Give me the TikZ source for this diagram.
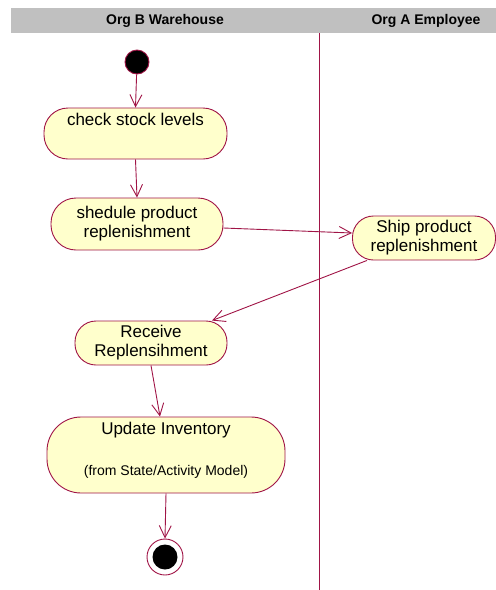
\documentclass[tikz,border=0pt]{standalone}
\usepackage{fontspec}
\setmainfont{Liberation Sans}
\usetikzlibrary{arrows.meta}
\definecolor{umlred}{RGB}{160,20,70}
\definecolor{umlfill}{RGB}{255,255,204}
\definecolor{lanegray}{RGB}{192,192,192}
\begin{document}
\begin{tikzpicture}[x=1pt, y=-1pt, line width=0.9pt,
		activity/.style={draw=umlred, fill=umlfill, rectangle, rounded corners=21pt,
			align=center, inner sep=4pt, font=\fontsize{17}{19}\selectfont},
		startdot/.style={circle, fill=black, draw=umlred, inner sep=0pt, minimum size=24pt},
		flow/.style={draw=umlred, -{Straight Barb[length=12pt, width=12pt]}}]
	\useasboundingbox (0,0) rectangle (496,590);
	% swimlane header and divider
	\fill[lanegray] (11,8) rectangle (496,33);
	\node[font=\bfseries\fontsize{14}{16}\selectfont] (laneB) at (165,21) {Org B Warehouse};
	\node[font=\bfseries\fontsize{14}{16}\selectfont] (laneA) at (426,21) {Org A Employee};
	\draw[umlred] (319,33) -- (319,590);
	% activities
	\node[startdot] (init) at (137,62) {};
	\node[activity, minimum width=183pt, text height=13pt, text depth=30pt, rounded corners=24pt] (check) at (135.5,133.5) {check stock levels};
	\node[activity, minimum width=172pt, minimum height=52pt, rounded corners=25pt] (shedule) at (137,224) {shedule product\\replenishment};
	\node[activity, minimum width=143pt, minimum height=44pt] (ship) at (424,238) {Ship product\\replenishment};
	\node[activity, minimum width=152pt, minimum height=44pt] (receive) at (151,343) {Receive\\Replensihment};
	\node[activity, minimum width=238pt, minimum height=76pt, rounded corners=34pt, text depth=13pt] (update) at (166,455)
		{Update Inventory\\[22pt]{\fontsize{14}{16}\selectfont (from State/Activity Model)}};
	\node[circle, draw=umlred, fill=white, minimum size=36pt, inner sep=0pt] (final) at (165,557) {};
	\fill[black] (final.center) circle (12.5pt);
	% transitions
	\draw[flow] (init) -- (check.north);
	\draw[flow] (check.south) -- (shedule.north);
	\draw[flow] ([yshift=-4pt]shedule.east) -- ([yshift=5pt]ship.west);
	\draw[flow] ([xshift=-57pt]ship.south) -- ([xshift=61pt]receive.north);
	\draw[flow] (receive.south) -- ([xshift=-6pt]update.north);
	\draw[flow] (update.south) -- (final.north);
\end{tikzpicture}
\end{document}
